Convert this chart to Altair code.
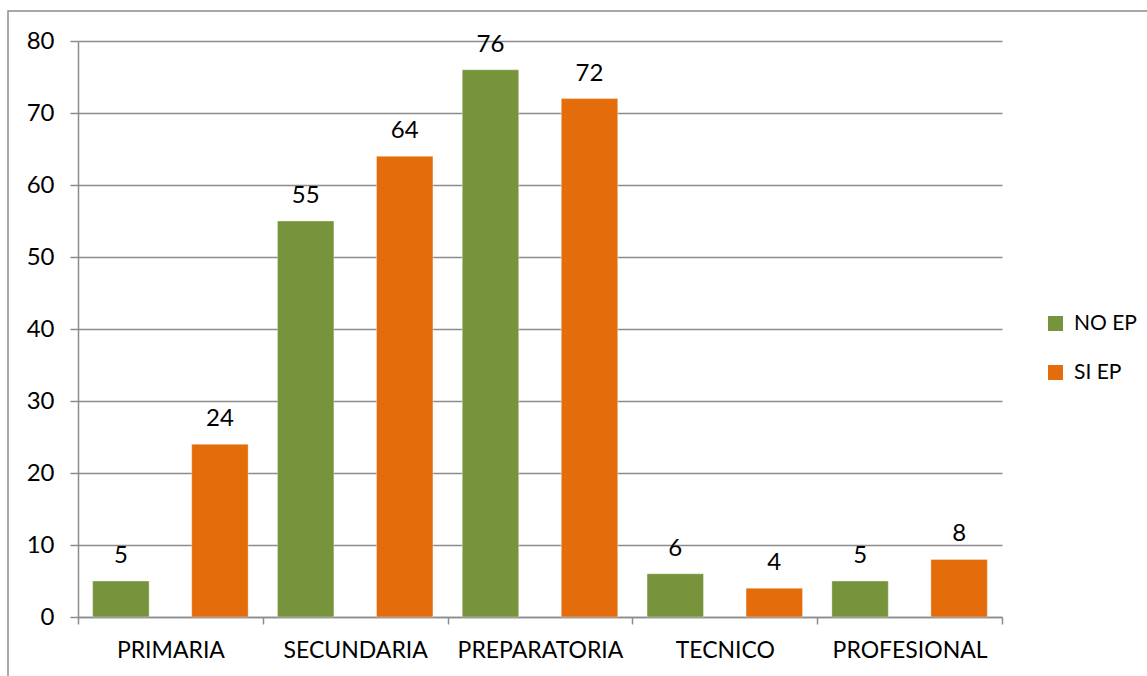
import altair as alt
import pandas as pd

# Education level by group
categories = ["PRIMARIA", "SECUNDARIA", "PREPARATORIA", "TECNICO", "PROFESIONAL"]
series_names = ["NO EP", "SI EP"]
no_ep = [5, 55, 76, 6, 5]
si_ep = [24, 64, 72, 4, 8]
y_ticks = [0, 10, 20, 30, 40, 50, 60, 70, 80]

colors = ["#77933C", "#E46C0A"]
FONT = "Lato"
GRID = "#8C8C8C"

rows = []
for cat, a, b in zip(categories, no_ep, si_ep):
    rows.append({"nivel": cat, "serie": series_names[0], "valor": a})
    rows.append({"nivel": cat, "serie": series_names[1], "valor": b})
df = pd.DataFrame(rows)

x_enc = alt.X(
    "nivel:N",
    sort=categories,
    title=None,
    scale=alt.Scale(paddingInner=0, paddingOuter=0),
    axis=alt.Axis(
        labelAngle=0,
        labelFont=FONT,
        labelFontSize=23,
        labelColor="#000000",
        labelPadding=15,
        domainColor=GRID,
        domainWidth=1.5,
        tickColor=GRID,
        tickWidth=1.5,
        tickSize=7,
        tickBand="extent",
        grid=False,
    ),
)
xoff_enc = alt.XOffset(
    "serie:N",
    sort=series_names,
    scale=alt.Scale(paddingInner=0.43, paddingOuter=0.148),
)
y_enc = alt.Y(
    "valor:Q",
    title=None,
    scale=alt.Scale(domain=[0, 80], nice=False),
    axis=alt.Axis(
        values=y_ticks,
        labelFont=FONT,
        labelFontSize=24,
        labelColor="#000000",
        labelPadding=16,
        domainColor=GRID,
        domainWidth=1.5,
        tickColor=GRID,
        tickWidth=1.5,
        tickSize=8,
        gridColor=GRID,
        gridWidth=1.5,
    ),
)

base = alt.Chart(df)

bars = base.mark_bar(stroke="#ffffff", strokeOpacity=0.35, strokeWidth=1).encode(
    x=x_enc,
    xOffset=xoff_enc,
    y=y_enc,
    color=alt.Color(
        "serie:N",
        sort=series_names,
        scale=alt.Scale(domain=series_names, range=colors),
        legend=alt.Legend(
            title=None,
            orient="none",
            legendX=967,
            legendY=272,
            symbolType="square",
            symbolSize=225,
            symbolStrokeWidth=0,
            labelFont=FONT,
            labelFontSize=21,
            labelColor="#000000",
            labelOffset=8,
            rowPadding=27,
            padding=0,
        ),
    ),
)

labels = base.mark_text(
    font=FONT, fontSize=24, color="#000000", baseline="alphabetic", dy=-18
).encode(
    x=alt.X("nivel:N", sort=categories),
    xOffset=alt.XOffset("serie:N", sort=series_names),
    y="valor:Q",
    text="valor:Q",
)

frame = alt.Chart(pd.DataFrame({"k": [0]})).mark_rect(
    fill=None, stroke="#8C8C8C", strokeWidth=1.5
).encode(
    x=alt.value(-70), x2=alt.value(1100), y=alt.value(-30), y2=alt.value(700)
)

chart = (
    alt.layer(frame, bars, labels)
    .properties(
        width=924,
        height=576,
        padding={"left": 78, "top": 41, "right": 145, "bottom": 59},
        autosize=alt.AutoSizeParams(type="none"),
        background="#ffffff",
    )
    .configure_view(stroke=None)
)

chart.save("out.html", embed_options={"renderer": "svg", "actions": False})
